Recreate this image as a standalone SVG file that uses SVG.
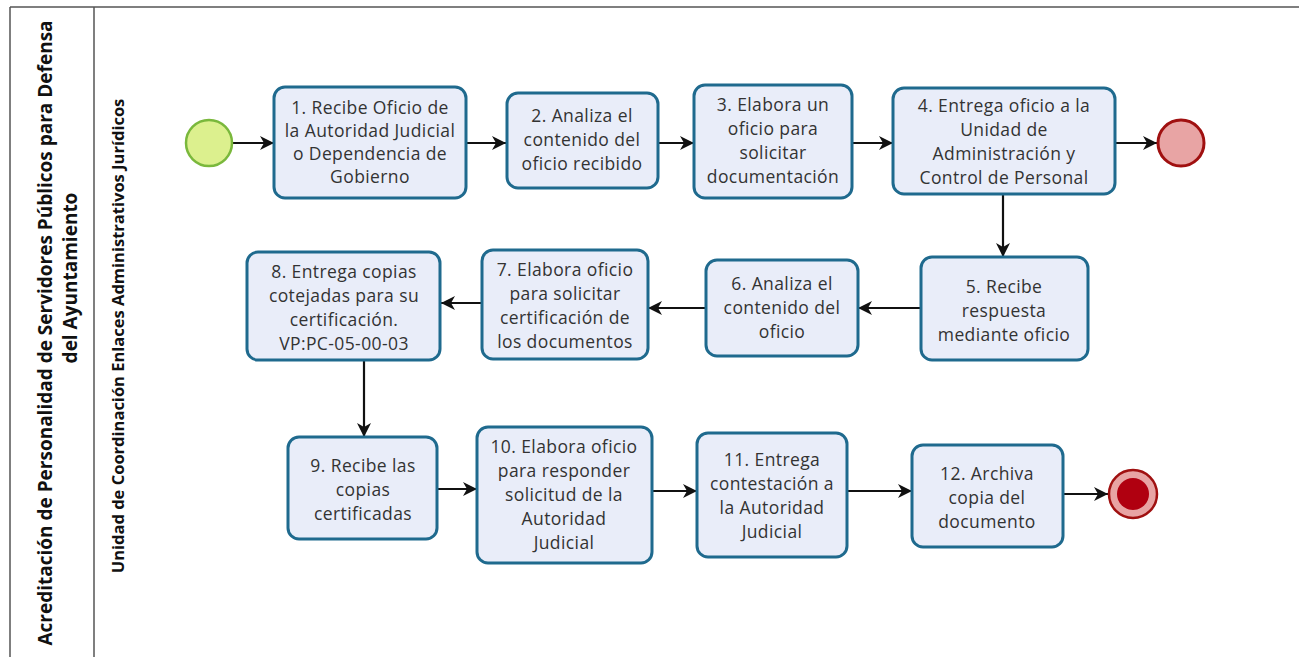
<svg xmlns="http://www.w3.org/2000/svg" width="1299" height="657" viewBox="0 0 1299 657">
<defs>
<marker id="arr" viewBox="0 0 14 14" refX="14" refY="7" markerWidth="14" markerHeight="14" markerUnits="userSpaceOnUse" orient="auto">
<path d="M0,0 L14,7 L0,14 L4,7 Z" fill="#111"/>
</marker>
</defs>
<style>
.lane{fill:none;stroke:#555;stroke-width:1.5}
.task rect{fill:#e9edf9;stroke:#1f6a8e;stroke-width:3}
.task text{font-family:"Open Sans","Noto Sans",sans-serif;font-size:17.5px;letter-spacing:0.4px;fill:#333;text-anchor:middle}
.title{font-family:"Open Sans","Noto Sans",sans-serif;font-weight:bold;fill:#111;text-anchor:middle}
.conn path{fill:none;stroke:#111;stroke-width:2.2;marker-end:url(#arr)}
</style>
<rect width="1299" height="657" fill="#fff"/>
<g id="pool">
<line class="lane" x1="10" y1="7" x2="1299" y2="7"/>
<line class="lane" x1="10" y1="7" x2="10" y2="657"/>
<line class="lane" x1="94" y1="7" x2="94" y2="657"/>
<text class="title" font-size="19" transform="translate(52,333) rotate(-90)">Acreditación de Personalidad de Servidores Públicos para Defensa</text>
<text class="title" font-size="19" transform="translate(77,278) rotate(-90)">del Ayuntamiento</text>
<text class="title" font-size="16.5" transform="translate(124,336) rotate(-90)">Unidad de Coordinación Enlaces Administrativos Jurídicos</text>
</g>
<g class="conn" id="connectors">
<path d="M232,143 L274,143"/>
<path d="M466,143 L506,143"/>
<path d="M658,143 L694,143"/>
<path d="M852,143 L893,143"/>
<path d="M1115,143 L1157,143"/>
<path d="M1003,195 L1003,257"/>
<path d="M921,308 L858,308"/>
<path d="M706,308 L648,308"/>
<path d="M482,303 L441,303"/>
<path d="M364,360 L364,437"/>
<path d="M437,489 L477,489"/>
<path d="M652,491 L697,491"/>
<path d="M847,491 L912,491"/>
<path d="M1063,494 L1108,494"/>
</g>
<g id="start">
<circle cx="209" cy="143" r="23" fill="#dcf08e" stroke="#7ab83c" stroke-width="2.5"/>
</g>
<g id="end1">
<circle cx="1181" cy="143" r="23" fill="#e8a4a4" stroke="#a01010" stroke-width="3"/>
</g>
<g id="end2">
<circle cx="1133" cy="494" r="24" fill="#e8a4a4" stroke="#a01010" stroke-width="2.5"/>
<circle cx="1133" cy="494" r="16" fill="#b00010"/>
</g>
<g class="task" id="t1"><rect x="274" y="87" width="192" height="111" rx="11"/>
<text x="370" y="114">1. Recibe Oficio de</text><text x="370" y="137">la Autoridad Judicial</text><text x="370" y="160">o Dependencia de</text><text x="370" y="183">Gobierno</text></g>
<g class="task" id="t2"><rect x="507" y="93" width="151" height="95" rx="11"/>
<text x="582" y="122">2. Analiza el</text><text x="582" y="146">contenido del</text><text x="582" y="170">oficio recibido</text></g>
<g class="task" id="t3"><rect x="694" y="85" width="158" height="113" rx="11"/>
<text x="773" y="111">3. Elabora un</text><text x="773" y="135">oficio para</text><text x="773" y="159">solicitar</text><text x="773" y="183">documentación</text></g>
<g class="task" id="t4"><rect x="893" y="88" width="222" height="106" rx="11"/>
<text x="1004" y="112">4. Entrega oficio a la</text><text x="1004" y="136">Unidad de</text><text x="1004" y="160">Administración y</text><text x="1004" y="184">Control de Personal</text></g>
<g class="task" id="t5"><rect x="921" y="257" width="167" height="103" rx="11"/>
<text x="1004" y="293">5. Recibe</text><text x="1004" y="317">respuesta</text><text x="1004" y="341">mediante oficio</text></g>
<g class="task" id="t6"><rect x="706" y="260" width="152" height="96" rx="11"/>
<text x="782" y="290">6. Analiza el</text><text x="782" y="314">contenido del</text><text x="782" y="338">oficio</text></g>
<g class="task" id="t7"><rect x="482" y="250" width="166" height="109" rx="11"/>
<text x="565" y="276">7. Elabora oficio</text><text x="565" y="300">para solicitar</text><text x="565" y="324">certificación de</text><text x="565" y="348">los documentos</text></g>
<g class="task" id="t8"><rect x="247" y="252" width="193" height="108" rx="11"/>
<text x="344" y="278">8. Entrega copias</text><text x="344" y="302">cotejadas para su</text><text x="344" y="326">certificación.</text><text x="344" y="350">VP:PC-05-00-03</text></g>
<g class="task" id="t9"><rect x="288" y="437" width="149" height="102" rx="11"/>
<text x="363" y="472">9. Recibe las</text><text x="363" y="496">copias</text><text x="363" y="520">certificadas</text></g>
<g class="task" id="t10"><rect x="477" y="427" width="175" height="136" rx="11"/>
<text x="564" y="453">10. Elabora oficio</text><text x="564" y="477">para responder</text><text x="564" y="501">solicitud de la</text><text x="564" y="525">Autoridad</text><text x="564" y="549">Judicial</text></g>
<g class="task" id="t11"><rect x="697" y="433" width="150" height="124" rx="11"/>
<text x="772" y="466">11. Entrega</text><text x="772" y="490">contestación a</text><text x="772" y="514">la Autoridad</text><text x="772" y="538">Judicial</text></g>
<g class="task" id="t12"><rect x="912" y="445" width="151" height="102" rx="11"/>
<text x="987" y="480">12. Archiva</text><text x="987" y="504">copia del</text><text x="987" y="528">documento</text></g>
</svg>
